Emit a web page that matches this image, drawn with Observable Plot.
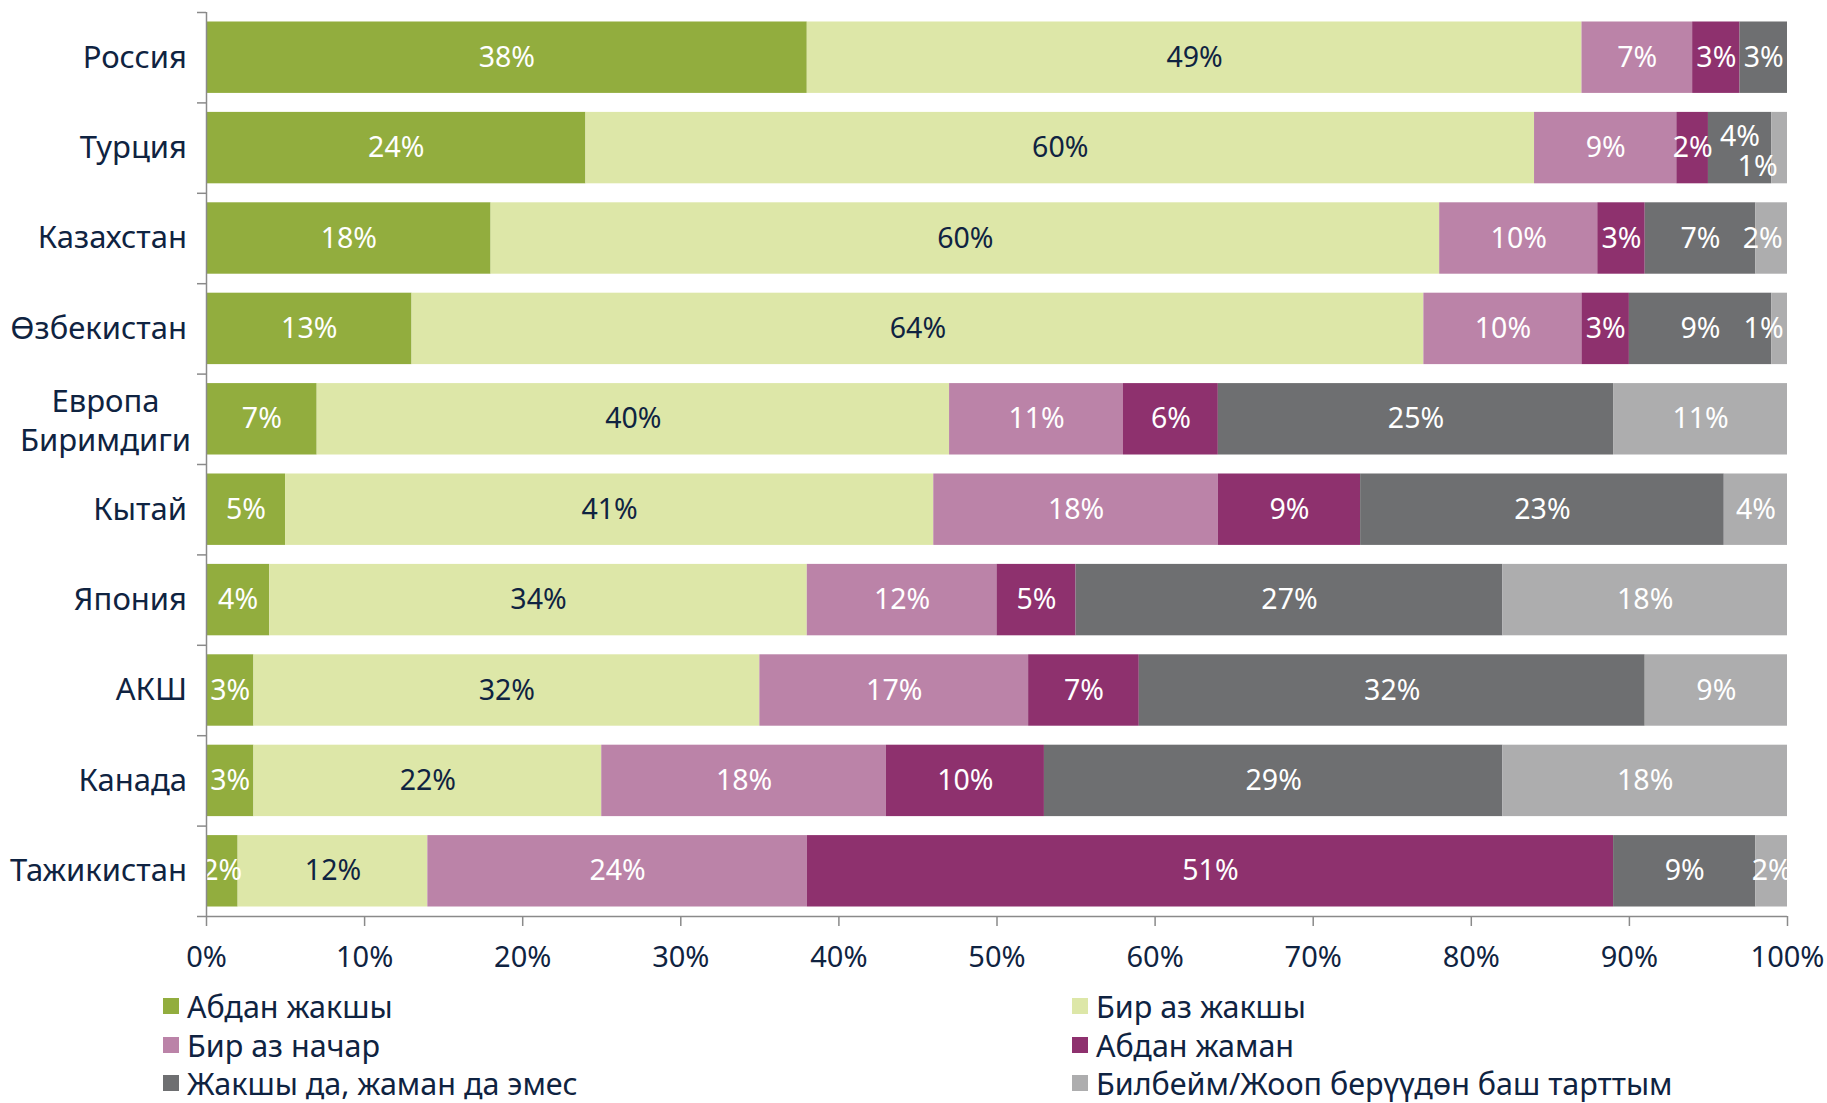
<!DOCTYPE html>
<html>
<head>
<meta charset="utf-8">
<script src="https://cdn.jsdelivr.net/npm/d3@7"></script>
<script src="https://cdn.jsdelivr.net/npm/@observablehq/plot@0.6"></script>
<style>
  body { margin: 0; background: #fff; font-family: "Noto Sans", sans-serif; }
  #legend {
    display: grid;
    grid-template-columns: 909px auto;
    padding-left: 163px;
    margin-top: 2px;
    color: #0F2341;
    font-size: 30.5px;
  }
  .item { display: flex; align-items: center; height: 38.5px; white-space: nowrap; }
  .sw { width: 16px; height: 16px; margin-right: 8px; flex: none; }
</style>
</head>
<body>
<div id="chart"></div>
<div id="legend"></div>
<script>
// Countries, top to bottom
const countries = ["Россия", "Турция", "Казахстан", "Өзбекистан", "Европа Биримдиги",
  "Кытай", "Япония", "АКШ", "Канада", "Тажикистан"];

// Answer categories, in stacking order
const responses = ["Абдан жакшы", "Бир аз жакшы", "Бир аз начар", "Абдан жаман",
  "Жакшы да, жаман да эмес", "Билбейм/Жооп берүүдөн баш тарттым"];

// Shares (%) per country, one array per answer
const veryGood     = [38, 24, 18, 13,  7,  5,  4,  3,  3,  2];
const somewhatGood = [49, 60, 60, 64, 40, 41, 34, 32, 22, 12];
const somewhatBad  = [ 7,  9, 10, 10, 11, 18, 12, 17, 18, 24];
const veryBad      = [ 3,  2,  3,  3,  6,  9,  5,  7, 10, 51];
const neither      = [ 3,  4,  7,  9, 25, 23, 27, 32, 29,  9];
const dontKnow     = [ 0,  1,  2,  1, 11,  4, 18,  9, 18,  2];

const xTicks = [0, 10, 20, 30, 40, 50, 60, 70, 80, 90, 100];

const palette = ["#92AD3E", "#DDE7A8", "#BB83A8", "#8E316E", "#6E6F71", "#ADADAE"];
const navy = "#0F2341";
const axisGray = "#8A8A8A";

// Long table: one row per country × answer, in stacking order
const series = [veryGood, somewhatGood, somewhatBad, veryBad, neither, dontKnow];
const rows = [];
countries.forEach((country, i) => {
  responses.forEach((response, j) => {
    rows.push({country, response, value: series[j][i]});
  });
});

const W = 1827, H = 985;
const mL = 206, mR = 40, mT = 12, mB = 69;
const step = (H - mT - mB) / countries.length;

// Value labels, stacked the same way as the bars, then filtered
const stacked = (test, opts = {}) => Plot.text(rows, Plot.filter(test, Plot.stackX({
  x: "value", y: "country", z: "response",
  text: d => d.value + "%",
  fontSize: 28.5,
  ...opts
})));

// A few labels of thin segments sit off-centre so they stay readable
const is = (country, response) => d => d.country === country && d.response === response;
const nudged = [
  {test: is("Турция", responses[4]), dx: 0, dy: -11},
  {test: is("Турция", responses[5]), dx: -22, dy: 19},
  {test: is("Өзбекистан", responses[5]), dx: -16, dy: 0},
  {test: is("Казахстан", responses[5]), dx: -9, dy: 0}
];
const isNudged = d => nudged.some(n => n.test(d));

const eu = "Европа Биримдиги";

const chart = Plot.plot({
  width: W, height: H,
  marginLeft: mL, marginRight: mR, marginTop: mT, marginBottom: mB,
  style: {fontFamily: '"Noto Sans", sans-serif', background: "white", overflow: "visible"},
  x: {domain: [0, 100]},
  y: {domain: countries, paddingInner: 0.21, paddingOuter: 0.105, round: false, axis: null},
  color: {domain: responses, range: palette},
  marks: [
    Plot.barX(rows, Plot.stackX({x: "value", y: "country", z: "response", fill: "response"})),

    stacked(d => d.value > 0 && d.response === responses[1], {fill: navy}),
    stacked(d => d.value > 0 && d.response !== responses[1] && !isNudged(d), {fill: "white"}),
    ...nudged.map(n => stacked(n.test, {fill: "white", dx: n.dx, dy: n.dy})),

    // left axis line and category separators
    Plot.ruleX([0], {stroke: axisGray, strokeWidth: 1.5}),
    Plot.ruleY(countries, {y: d => d, x1: 0, x2: 0, insetLeft: -9, dy: -step / 2, stroke: axisGray, strokeWidth: 1.5}),
    Plot.ruleY([countries[countries.length - 1]], {y: d => d, insetLeft: -9, dy: step / 2, stroke: axisGray, strokeWidth: 1.5}),

    Plot.axisX({
      ticks: xTicks, tickFormat: d => d + "%", tickSize: 10, tickPadding: 20,
      fontSize: 29, stroke: axisGray, fill: navy, strokeWidth: 1.5, label: null
    }),

    // category names
    Plot.text(countries.filter(c => c !== eu), {
      y: d => d, text: d => d, frameAnchor: "left", textAnchor: "end",
      dx: -19.5, fontSize: 31, fill: navy
    }),
    Plot.text([eu], {
      y: d => d, text: d => d.replace(" ", "\n"), frameAnchor: "left", textAnchor: "middle",
      dx: -101, lineHeight: 1.26, fontSize: 31, fill: navy
    })
  ]
});

document.getElementById("chart").append(chart);

// Legend: two columns, filled row by row
const legend = document.getElementById("legend");
responses.forEach((r, i) => {
  const item = document.createElement("div");
  item.className = "item";
  const sw = document.createElement("span");
  sw.className = "sw";
  sw.style.background = palette[i];
  const label = document.createElement("span");
  label.textContent = r;
  item.append(sw, label);
  legend.append(item);
});
</script>
</body>
</html>
